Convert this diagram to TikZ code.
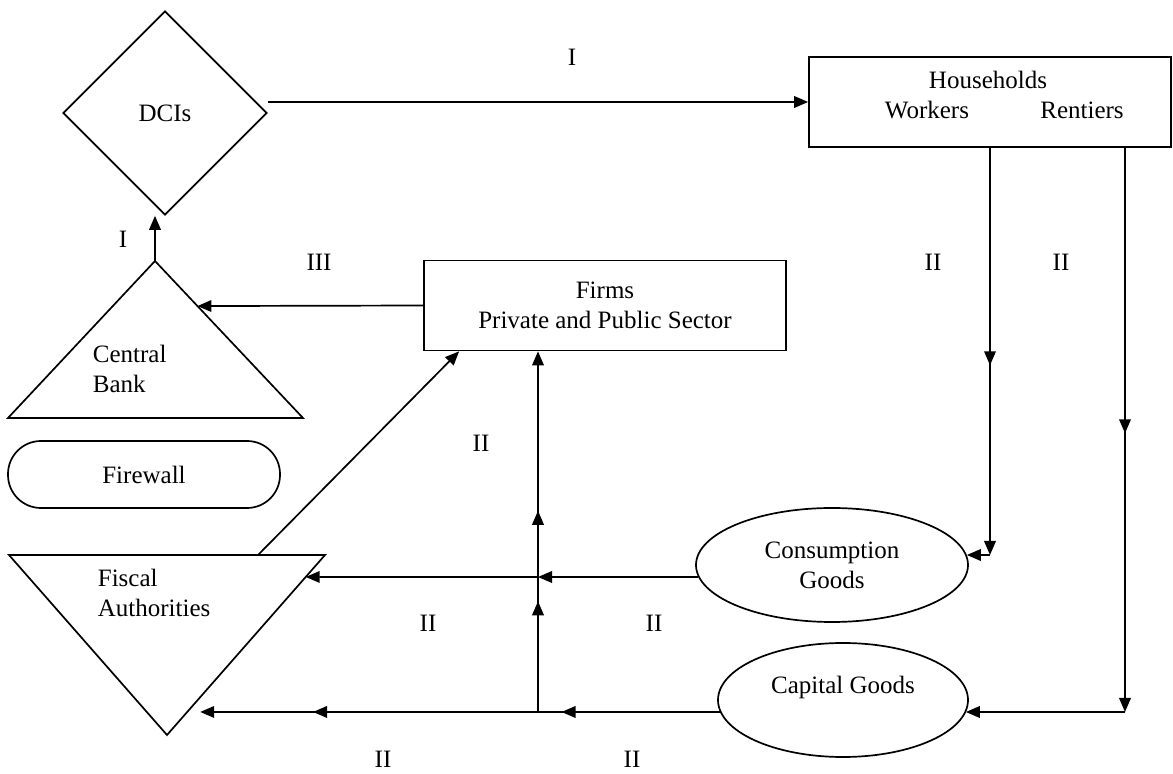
\documentclass[tikz,border=0pt]{standalone}
\usepackage{fontspec}
\setmainfont{Liberation Serif}
\usetikzlibrary{shapes.geometric,arrows.meta,decorations.markings,calc}

\begin{document}
\begin{tikzpicture}[x=0.5pt,y=-0.5pt,
    font=\fontsize{12.5}{15}\selectfont,
    line width=0.85pt,
    flowtip/.tip={Triangle[length=7pt,width=5.8pt]},
    flow/.style={-flowtip},
    midtip/.style={postaction={decorate,decoration={markings,mark=at position #1 with {\arrow{flowtip}}}}},
    sectorbox/.style={draw, minimum width=181pt, minimum height=45pt, inner sep=0pt},
    goods/.style={draw, ellipse, inner sep=0pt, align=center, minimum height=57pt}]
    \useasboundingbox (0,0) rectangle (1173,774);

    % agents
    \node[draw, diamond, minimum width=102pt, minimum height=102pt, inner sep=0pt] (dci) at (165,113) {DCIs};
    \node[sectorbox] (hh) at (990,102) {};
    \node (hhname) at (988,80) {Households};
    \node (wk) at (927,110) {Workers};
    \node (rt) at (1082,110) {Rentiers};
    \node[sectorbox, align=center] (fi) at (605,305.5) {Firms\\Private and Public Sector};
    \node[goods, minimum width=136pt] (cons) at (832,565) {Consumption\\Goods};
    \node[goods, minimum width=125pt] (cap) at (843,700) {Capital Goods\\\mbox{}};
    \node[draw, rounded corners=16.5pt, minimum width=136pt, minimum height=33.5pt] (fw) at (144,474.5) {Firewall};

    % central bank and fiscal authorities
    \coordinate (cbtop) at (155,261);
    \coordinate (cbl) at (8,418);
    \coordinate (cbr) at (303,418);
    \draw (cbtop) -- (cbr) -- (cbl) -- cycle;
    \node[align=left, anchor=west, inner sep=0pt] (cbname) at (92,369) {Central\\Bank};
    \coordinate (fatl) at (9,555);
    \coordinate (fatr) at (325,555);
    \coordinate (fabot) at (167,735);
    \draw (fatl) -- (fatr) -- (fabot) -- cycle;
    \node[align=left, anchor=west, inner sep=0pt] (faname) at (97,593) {Fiscal\\Authorities};

    % junctions
    \coordinate (wkc) at (990,555);
    \coordinate (rtc) at (1125,712);
    \coordinate (jc) at (538,577);
    \coordinate (jb) at (538,712);
    \coordinate (faend) at ($(fatr)!0.872!(fabot)+(13,0)$);

    % flows
    \draw[flow] (dci.east |- hh.west) -- (hh.west);
    \draw[flow] (cbtop) -- (cbtop |- dci.south);
    \draw[flow] (fi.west) -- ($(cbtop)!0.287!(cbr)$);
    \draw[flow, midtip=0.534] (hh.south) -- (wkc);
    \draw[flow] (wkc) -- ($(cons.east)+(-2,-10)$);
    \draw[flow, midtip=0.506] (rtc |- hh.south) -- (rtc);
    \draw[flow] (rtc) -- ($(cap.east)+(-3,12)$);
    \draw[flow] ($(cons.west)+(3,12)$) -- (jc);
    \draw[flow] (jc) -- ($(fatr)!0.122!(fabot)$);
    \draw[flow, midtip=0.305, midtip=0.783] ($(cap.west)+(3,12)$) -- (faend);
    \draw[flow, midtip=0.307, midtip=0.558] (jb) -- (jb |- fi.south);
    \draw[flow] ($(fatl)!0.788!(fatr)$) -- ($(fi.south west)+(36,0)$);

    % labels
    \node (l1) at (572,57) {I};
    \node (l2) at (123,239) {I};
    \node (l3) at (319,262) {III};
    \node (l4) at (933,262) {II};
    \node (l5) at (1061,262) {II};
    \node (l6) at (481,443) {II};
    \node (l7) at (428,623) {II};
    \node (l8) at (654,623) {II};
    \node (l9) at (383,759) {II};
    \node (l10) at (632,759) {II};
\end{tikzpicture}
\end{document}
